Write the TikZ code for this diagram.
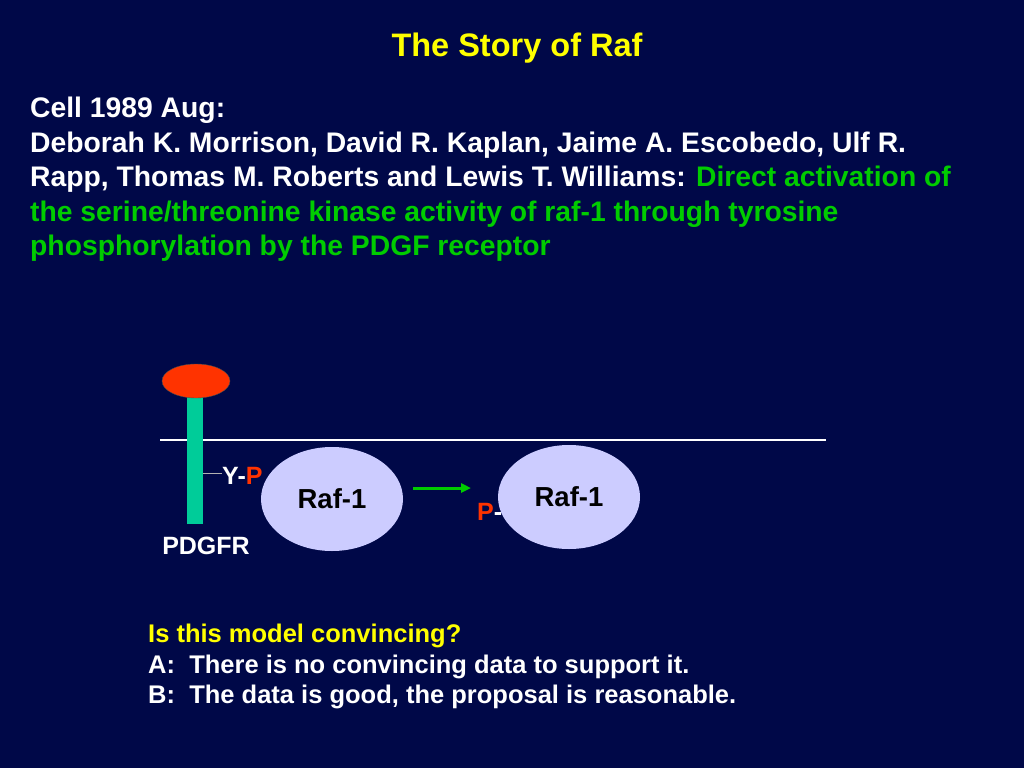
\documentclass[tikz,border=0pt]{standalone}
\usepackage{fontspec}
\setmainfont{Liberation Sans}
\usetikzlibrary{arrows.meta, positioning, shapes.geometric}
\definecolor{fondoSlide}{RGB}{0,8,72}
\definecolor{amarillo}{HTML}{FFFF00}
\definecolor{verdeTexto}{HTML}{00CC00}
\definecolor{verdeBarra}{HTML}{00CC99}
\definecolor{rojoP}{HTML}{FF3300}
\definecolor{lilaRaf}{HTML}{CCCCFF}
\begin{document}
\begin{tikzpicture}[x=1pt, y=-1pt, font=\bfseries, >=Latex,
        txt/.style={text=white, inner sep=0pt, align=left},
        raf/.style={ellipse, fill=lilaRaf, minimum width=142pt, minimum height=104pt,
            inner sep=0pt, font=\fontsize{27.5}{30}\selectfont\bfseries},
        etq/.style={txt, font=\fontsize{25}{28}\selectfont\bfseries},
        memb/.style={white, line width=2pt}]
        % fondo
        \fill[fondoSlide] (0,0) rectangle (1024,768);
        \node[text=amarillo, font=\fontsize{32.5}{36}\selectfont\bfseries] (tit) at (517,48) {The Story of Raf};
        \node[txt, anchor=north west, font=\fontsize{28.3}{34.5}\selectfont\bfseries] (ref) at (30,97)
            {Cell 1989 Aug:\\
            Deborah K. Morrison, David R. Kaplan, Jaime A. Escobedo, Ulf R.\\
            Rapp, Thomas M. Roberts and Lewis T. Williams: \textcolor{verdeTexto}{Direct activation of}\\
            \textcolor{verdeTexto}{the serine/threonine kinase activity of raf-1 through tyrosine}\\
            \textcolor{verdeTexto}{phosphorylation by the PDGF receptor}};
        % membrana
        \coordinate (mI) at (160,440);
        \coordinate (mD) at (826,440);
        \draw[memb] (mI) -- (mD);
        % receptor
        \node[fill=verdeBarra, minimum width=16pt, minimum height=127pt, inner sep=0pt] (bar) at (195,460.5) {};
        \node[ellipse, fill=rojoP, draw=black!70, minimum width=68pt, minimum height=34pt] (lig) at (196,381) {};
        \node[etq, anchor=north] (pdgfr) at (206,537) {PDGFR};
        \node[etq, anchor=west] (yp) at (222,476) {Y-\textcolor{rojoP}{P}};
        \draw[gray!60!white, line width=1pt] (bar.east |- 0,473) -- (yp.west |- 0,473);
        % Raf-1
        \node[etq, anchor=west] (pp) at (477,512) {\textcolor{rojoP}{P}-\,};
        \node[raf] (raf1) at (332,499) {Raf-1};
        \node[raf] (raf2) at (569,497) {Raf-1};
        \coordinate (fI) at (413,488);
        \coordinate (fF) at (471,488);
        \draw[-{Triangle[length=10pt, width=9pt]}, verdeTexto, line width=3pt] (fI) -- (fF);
        % pregunta
        \node[txt, anchor=north west, font=\fontsize{25.5}{30.5}\selectfont\bfseries] (preg) at (148,624)
            {\textcolor{amarillo}{Is this model convincing?}\\
            A:\ \ There is no convincing data to support it.\\
            B:\ \ The data is good, the proposal is reasonable.};
    \end{tikzpicture}
\end{document}
